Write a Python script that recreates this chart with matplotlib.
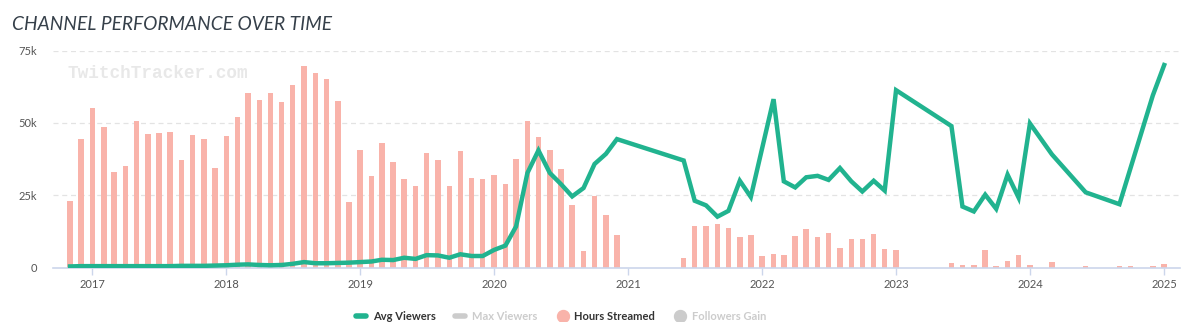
import matplotlib.pyplot as plt
import pandas as pd
import numpy as np
from matplotlib.lines import Line2D

# Месяцы: ноябрь 2016 - январь 2025
months = pd.date_range("2016-11-01", "2025-01-01", freq="MS")

# Hours streamed (в единицах левой оси, k)
hours = [22.9, 44.6,
         55.0, 48.6, 32.9, 35.0, 50.6, 46.0, 46.4, 47.0, 37.1, 45.7, 44.6, 34.5,
         45.3, 52.1, 60.3, 57.9, 60.2, 57.1, 63.1, 69.5, 67.1, 65.3, 57.5, 22.5,
         40.7, 31.8, 43.1, 36.4, 30.7, 28.2, 39.6, 37.1, 28.3, 40.3, 31.0, 30.7,
         32.1, 29.0, 37.6, 50.6, 45.0, 40.7, 34.0, 21.5, 5.7, 24.7, 18.2, 11.3,
         0, 0, 0, 0, 0, 3.2, 14.5, 14.5, 15.0, 13.8, 10.6, 11.3,
         3.9, 4.6, 4.2, 10.9, 13.3, 10.6, 12.1, 6.8, 10.0, 10.0, 11.7, 6.4,
         6.1, 0, 0, 0, 0, 1.7, 0.9, 0.9, 6.1, 0.5, 2.4, 4.2,
         0.8, 0, 1.8, 0, 0, 0.4, 0, 0, 0.4, 0.4, 0, 0.4,
         1.2]

# Avg viewers (k), None = нет данных
viewers = [0.4, 0.5,
           0.5, 0.5, 0.5, 0.5, 0.5, 0.5, 0.5, 0.5, 0.6, 0.6, 0.6, 0.7,
           0.8, 1.0, 1.1, 0.9, 0.8, 0.9, 1.3, 1.9, 1.5, 1.5, 1.6, 1.7,
           1.9, 2.1, 2.7, 2.6, 3.4, 3.0, 4.3, 4.2, 3.4, 4.6, 4.0, 4.0,
           6.1, 7.6, 14.2, 32.7, 40.5, 32.7, 28.9, 24.6, 27.5, 35.8, 39.3, 44.4,
           None, None, None, None, None, 37.0, 23.1, 21.5, 17.6, 19.6, 30.0, 24.4,
           41.3, 58.2, 29.8, 27.7, 31.2, 31.7, 30.3, 34.4, 29.8, 26.3, 30.0, 26.6,
           61.3, None, None, None, None, 48.9, 21.1, 19.4, 25.2, 20.3, 32.1, 24.2,
           49.8, None, 39.1, None, None, 26.0, None, None, 21.9, None, None, 59.5,
           70.0]

year_ticks = pd.date_range("2017-01-01", "2025-01-01", freq="YS")
year_labels = [str(d.year) for d in year_ticks]
y_ticks = [0, 25, 50, 75]
y_labels = ["0", "25k", "50k", "75k"]

teal = "#21b38f"
salmon = "#f9b3aa"

fig = plt.figure(figsize=(12, 3.22), dpi=100)
ax = fig.add_axes([0.044, 0.169, 0.939, 0.674])

hours_arr = np.array(hours)
mask_h = hours_arr > 0
ax.bar(months[mask_h], hours_arr[mask_h], width=15, color=salmon, zorder=2)

v_dates = [m for m, v in zip(months, viewers) if v is not None]
v_vals = [v for v in viewers if v is not None]
ax.plot(v_dates, v_vals, color=teal, linewidth=3.2, solid_joinstyle='miter', zorder=3)

ax.set_ylim(0, 75)
ax.set_xlim(pd.Timestamp("2016-09-15"), pd.Timestamp("2025-02-12"))
ax.set_yticks(y_ticks, y_labels)
ax.set_xticks(year_ticks, year_labels)
ax.tick_params(axis='y', length=0, pad=11.5, labelsize=8, labelcolor='#555555')
ax.tick_params(axis='x', length=5, width=1, color='#ccd6eb', pad=3, labelsize=8, labelcolor='#555555')
for lab in ax.get_xticklabels() + ax.get_yticklabels():
    lab.set_fontfamily('Lato')

for y in [25, 50, 75]:
    ax.axhline(y, color='#e3e3e3', linestyle=(0, (4, 3)), linewidth=0.9, zorder=1)
for s in ['top', 'right', 'left']:
    ax.spines[s].set_visible(False)
ax.spines['bottom'].set_color('#ccd6eb')
ax.spines['bottom'].set_linewidth(1.2)

# Водяной знак
fig.text(68 / 1200, 1 - 73 / 322, "TwitchTracker.com", fontsize=12.8, family='Liberation Mono',
         weight='bold', color='#e8e8e8', va='center', ha='left', zorder=0)

# Заголовок
fig.text(12 / 1200, 1 - 25 / 322, "CHANNEL PERFORMANCE OVER TIME", fontsize=13.8, family='Lato',
         style='italic', color='#36404a', va='center', ha='left')

# Легенда
handles = [Line2D([], [], color=teal, linewidth=4, solid_capstyle='round'),
           Line2D([], [], color='#cccccc', linewidth=4, solid_capstyle='round'),
           Line2D([], [], color=salmon, marker='o', markersize=8.6, linestyle='none'),
           Line2D([], [], color='#cccccc', marker='o', markersize=8.6, linestyle='none')]
names = ["Avg Viewers", "Max Viewers", "Hours Streamed", "Followers Gain"]
leg = fig.legend(handles, names, loc='center', bbox_to_anchor=(561 / 1200, 1 - 316 / 322), ncol=4,
                 frameon=False, handlelength=0.9, handletextpad=0.6, columnspacing=1.8,
                 borderpad=0, prop={'family': 'Lato', 'size': 8, 'weight': 'bold'})
for t, c in zip(leg.get_texts(), ['#333333', '#cccccc', '#333333', '#cccccc']):
    t.set_color(c)

plt.savefig('out.png', dpi=100)
